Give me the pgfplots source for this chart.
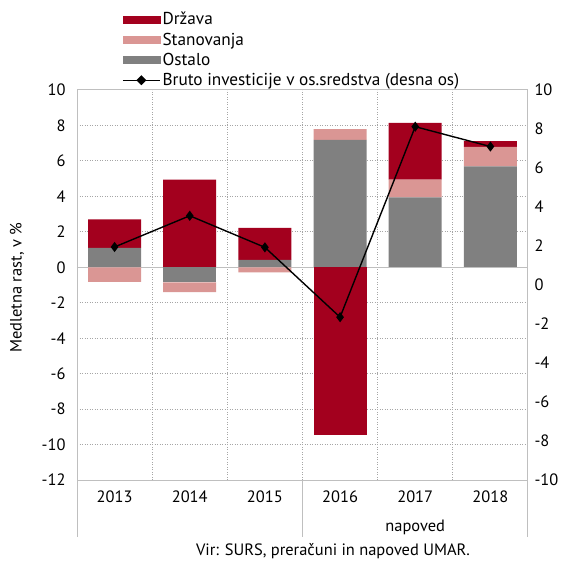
\documentclass[border=0pt]{standalone}
\usepackage{pgfplots}
\pgfplotsset{compat=1.18}
\usepackage{fontspec}
\setmainfont{PT Sans}
\definecolor{drz}{HTML}{A3001E}
\definecolor{stan}{HTML}{DA9694}
\definecolor{ost}{HTML}{808080}
\definecolor{axgray}{HTML}{BFBFBF}
\definecolor{gridgray}{HTML}{A6A6A6}
\newcommand{\fs}{\fontsize{16.5}{19}\selectfont}
\pgfplotsset{
  base/.style={
    scale only axis, width=451bp, height=390bp,
    at={(0,0)}, anchor=south west,
    xmin=-0.5, xmax=5.5, ymin=-12, ymax=10,
    tick label style={font=\fs},
    /pgf/number format/assume math mode=true,
    major tick length=0pt,
    clip=false,
  },
  bars/.style={base, ybar stacked, bar width=53bp},
}
\begin{document}
\begin{tikzpicture}
% positive parts of the bars, with grid and left axis
\begin{axis}[bars, name=main,
    xtick={0,...,5}, xticklabels={2013,2014,2015,2016,2017,2018},
    xticklabel style={yshift=-7bp},
    ytick={-12,-10,...,10},
    yticklabel style={xshift=-8bp},
    extra x ticks={0.5,1.5,2.5,3.5,4.5}, extra x tick labels={},
    extra x tick style={grid=major},
    ymajorgrids,
    grid style={color=gridgray, line width=1bp, dash pattern=on 1bp off 1.5bp},
    axis line style={axgray, line width=1pt},
  ]
\addplot[fill=ost, draw=none] coordinates {(0,1.1) (1,0) (2,0.42) (3,7.19) (4,3.94) (5,5.69)};
\addplot[fill=stan, draw=none] coordinates {(0,0) (1,0) (2,0) (3,0.6) (4,1.0) (5,1.1)};
\addplot[fill=drz, draw=none] coordinates {(0,1.6) (1,4.95) (2,1.8) (3,0) (4,3.2) (5,0.32)};
\end{axis}
% negative parts
\begin{axis}[bars, hide axis]
\addplot[fill=ost, draw=none] coordinates {(0,0) (1,-0.85) (2,0) (3,0) (4,0) (5,0)};
\addplot[fill=stan, draw=none] coordinates {(0,-0.82) (1,-0.55) (2,-0.29) (3,0) (4,0) (5,0)};
\addplot[fill=drz, draw=none] coordinates {(0,0) (1,0) (2,0) (3,-9.47) (4,0) (5,0)};
\draw[axgray, line width=1.5pt] (axis cs:-0.5,0) -- (axis cs:5.5,0);
\draw[axgray, line width=1pt] (axis cs:-0.5,-12) -- ([yshift=-57bp]axis cs:-0.5,-12);
\draw[axgray, line width=1pt] (axis cs:2.5,-12) -- ([yshift=-57bp]axis cs:2.5,-12);
\draw[axgray, line width=1pt] (axis cs:5.5,-12) -- ([yshift=-57bp]axis cs:5.5,-12);
\node[font=\fs] at ([yshift=-47bp]axis cs:4,-12) {napoved};
\node[font=\fs] at ([yshift=-71bp]axis cs:2.906,-12) {Vir: SURS, preračuni in napoved UMAR.};
\node[font=\fs, rotate=90] at ([xshift=-60bp]axis cs:-0.5,-1.15) {Medletna rast, v \%};
\end{axis}
% line on the right axis
\begin{axis}[base, ymin=-10, ymax=10,
    axis x line=none, axis y line*=right,
    y axis line style={axgray, line width=1pt},
    ytick={-10,-8,...,10},
    yticklabel style={xshift=3bp},
    legend style={at={(0.0998,1.205)}, anchor=north west, draw=none, fill=none,
      font=\fontsize{17.3}{19}\selectfont, row sep=2.5bp, inner sep=0pt},
    legend cell align=left,
  ]
\addlegendimage{legend image code/.code={\fill[drz] (0bp,-3.5bp) rectangle (37bp,3.5bp);}}
\addlegendentry{Država}
\addlegendimage{legend image code/.code={\fill[stan] (0bp,-3.5bp) rectangle (37bp,3.5bp);}}
\addlegendentry{Stanovanja}
\addlegendimage{legend image code/.code={\fill[ost] (0bp,-3.5bp) rectangle (37bp,3.5bp);}}
\addlegendentry{Ostalo}
\addplot[black, line width=1.4pt, mark=diamond*, mark size=4pt,
  legend image code/.code={\draw[black, line width=1.4pt] (0bp,0bp) -- (37bp,0bp);
    \fill[black] (18.5bp,4bp) -- (22.5bp,0bp) -- (18.5bp,-4bp) -- (14.5bp,0bp) -- cycle;}]
  coordinates {(0,1.95) (1,3.55) (2,1.93) (3,-1.65) (4,8.12) (5,7.1)};
\addlegendentry{Bruto investicije v os.sredstva (desna os)}
\end{axis}
\path (main.south west) ++(-77bp,-82bp) rectangle ++(569bp,562bp);
\end{tikzpicture}
\end{document}
